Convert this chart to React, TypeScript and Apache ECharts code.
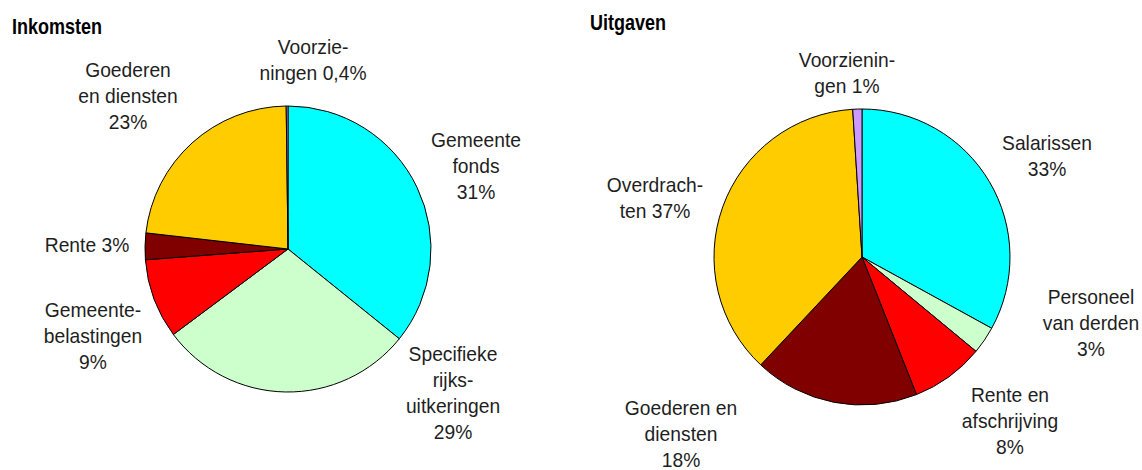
import React, { useEffect, useRef } from "react";
import * as echarts from "echarts";

// Inkomsten (income) — shares as drawn in the picture, clockwise from 12 o'clock
const incomeNames = ["Gemeentefonds", "Specifieke rijksuitkeringen", "Gemeentebelastingen", "Rente", "Goederen en diensten", "Voorzieningen"];
const incomeValues = [35.8, 29, 9, 3, 23, 0.2];
const incomeLabels = ["Gemeente\nfonds\n31%", "Specifieke\nrijks-\nuitkeringen\n29%", "Gemeente-\nbelastingen\n9%", "Rente 3%", "Goederen\nen diensten\n23%", "Voorzie-\nningen 0,4%"];

// Uitgaven (expenditure)
const expenseNames = ["Salarissen", "Personeel van derden", "Rente en afschrijving", "Goederen en diensten", "Overdrachten", "Voorzieningen"];
const expenseValues = [33, 3, 8, 18, 37, 1];
const expenseLabels = ["Salarissen\n33%", "Personeel\nvan derden\n3%", "Rente en\nafschrijving\n8%", "Goederen en\ndiensten\n18%", "Overdrach-\nten 37%", "Voorzienin-\ngen 1%"];

const incomeColors = ["#00FFFF", "#CCFFCC", "#FF0000", "#800000", "#FFCC00", "#CC99FF"];
const expenseColors = ["#00FFFF", "#CCFFCC", "#FF0000", "#800000", "#FFCC00", "#CC99FF"];

// label anchor positions (center x, center y of first line)
const incomeLabelPos = [[476, 140], [453, 354], [93, 310], [87, 245], [128, 70], [313, 47]];
const expenseLabelPos = [[1047, 143], [1091, 297], [1010, 395], [681, 408], [655, 185], [847, 60]];

const FONT = "'Liberation Sans', Arial, sans-serif";
const LH = 26;
const FS = 18;

export default function App() {
  const ref = useRef<HTMLDivElement>(null);
  useEffect(() => {
    document.body.style.margin = "0";
    const chart = echarts.init(ref.current!, undefined, { renderer: "svg" });
    const mkLabels = (labels: string[], pos: number[][]) =>
      labels.flatMap((t, i) =>
        t.split("\n").map((line, k) => ({
          type: "text",
          x: pos[i][0],
          y: pos[i][1] + k * LH,
          scaleX: 1.07,
          scaleY: 1.15,
          silent: true,
          style: {
            text: line,
            fontFamily: FONT,
            fontSize: FS,
            fill: "#1e1e1e",
            align: "center",
            verticalAlign: "middle",
          },
        }))
      );
    const pie = (names: string[], values: number[], colors: string[], center: number[], radius: number) => ({
      type: "pie",
      center,
      radius,
      startAngle: 90,
      clockwise: true,
      silent: true,
      label: { show: false },
      labelLine: { show: false },
      itemStyle: { borderColor: "#000", borderWidth: 1 },
      emphasis: { disabled: true },
      data: names.map((n, i) => ({ name: n, value: values[i], itemStyle: { color: colors[i] } })),
    });
    const title = (text: string, x: number, y: number) => ({
      type: "text",
      x,
      y,
      scaleY: 1.22,
      silent: true,
      style: { text, fontFamily: FONT, fontSize: 18, fontWeight: "bold", fill: "#000", align: "left", verticalAlign: "middle" },
    });
    chart.setOption({
      animation: false,
      backgroundColor: "#fff",
      series: [
        pie(incomeNames, incomeValues, incomeColors, [288, 249], 143),
        pie(expenseNames, expenseValues, expenseColors, [862, 257], 148),
      ],
      graphic: [
        title("Inkomsten", 12, 26),
        title("Uitgaven", 590, 22),
        ...mkLabels(incomeLabels, incomeLabelPos),
        ...mkLabels(expenseLabels, expenseLabelPos),
      ],
    });
    return () => chart.dispose();
  }, []);
  return <div ref={ref} style={{ position: "absolute", left: 0, top: 0, width: 1142, height: 470 }} />;
}
